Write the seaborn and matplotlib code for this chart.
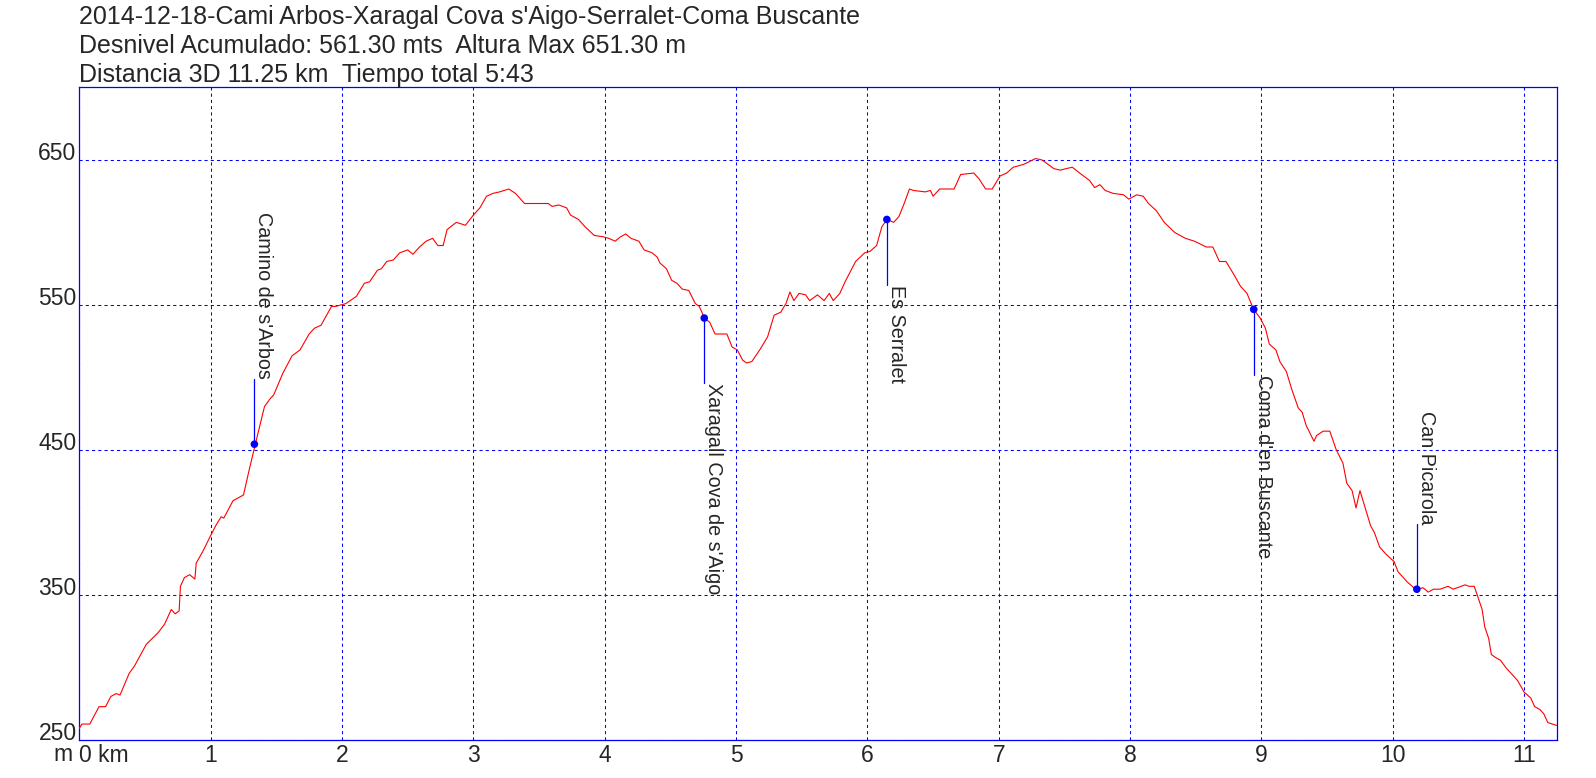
import seaborn as sns
import matplotlib.pyplot as plt

# elevation profile (km, m)
dist_km = [0.00, 0.02, 0.08, 0.15, 0.20, 0.24, 0.28, 0.31, 0.38, 0.42, 0.51, 0.60, 0.65, 0.70, 0.73,
           0.76, 0.77, 0.80, 0.84, 0.88, 0.89, 0.94, 1.00, 1.04, 1.08, 1.10, 1.17, 1.25, 1.29, 1.34,
           1.41, 1.45, 1.48, 1.55, 1.62, 1.68, 1.75, 1.79, 1.84, 1.92, 1.95, 2.03, 2.11, 2.17, 2.21,
           2.27, 2.30, 2.34, 2.39, 2.44, 2.50, 2.54, 2.59, 2.64, 2.69, 2.73, 2.77, 2.80, 2.87, 2.94,
           3.00, 3.05, 3.10, 3.15, 3.20, 3.27, 3.32, 3.39, 3.57, 3.60, 3.65, 3.71, 3.74, 3.80, 3.85,
           3.92, 3.99, 4.03, 4.08, 4.12, 4.16, 4.20, 4.26, 4.30, 4.36, 4.40, 4.42, 4.47, 4.51, 4.55,
           4.59, 4.64, 4.69, 4.72, 4.76, 4.80, 4.84, 4.93, 4.97, 5.01, 5.05, 5.08, 5.12, 5.18, 5.24,
           5.29, 5.34, 5.38, 5.41, 5.44, 5.48, 5.53, 5.56, 5.62, 5.67, 5.71, 5.74, 5.79, 5.83, 5.87,
           5.91, 5.98, 6.02, 6.07, 6.11, 6.15, 6.20, 6.24, 6.28, 6.32, 6.35, 6.44, 6.48, 6.50, 6.55,
           6.66, 6.71, 6.81, 6.85, 6.90, 6.95, 7.01, 7.06, 7.11, 7.19, 7.28, 7.33, 7.42, 7.47, 7.51,
           7.56, 7.63, 7.69, 7.73, 7.77, 7.81, 7.87, 7.95, 7.99, 8.05, 8.10, 8.14, 8.20, 8.26, 8.34,
           8.42, 8.49, 8.58, 8.63, 8.68, 8.73, 8.79, 8.84, 8.89, 8.94, 8.99, 9.03, 9.06, 9.11, 9.14,
           9.19, 9.23, 9.28, 9.31, 9.34, 9.40, 9.42, 9.47, 9.52, 9.57, 9.62, 9.65, 9.69, 9.72, 9.75,
           9.79, 9.83, 9.86, 9.90, 9.95, 10.01, 10.04, 10.11, 10.16, 10.19, 10.23, 10.27, 10.31, 10.36,
           10.42, 10.46, 10.55, 10.58, 10.62, 10.65, 10.68, 10.70, 10.73, 10.75, 10.78, 10.82, 10.86,
           10.90, 10.95, 11.00, 11.05, 11.08, 11.12, 11.15, 11.18, 11.25]
elev_m = [258, 261, 261, 273, 273, 280, 282, 281, 296, 301, 316, 324, 330, 340, 337,
          339, 356, 362, 364, 361, 372, 380, 391, 398, 404, 403, 415, 419, 435, 454,
          480, 485, 488, 503, 515, 519, 530, 534, 536, 549, 549, 551, 556, 565, 566,
          574, 575, 580, 581, 586, 588, 585, 590, 594, 596, 591, 591, 602, 607, 605,
          612, 617, 625, 627, 628, 630, 627, 620, 620, 618, 619, 617, 612, 609, 604,
          598, 597, 596, 594, 597, 599, 596, 594, 588, 586, 583, 579, 575, 567, 565,
          561, 560, 551, 549, 541, 538, 530, 530, 521, 519, 512, 510, 511, 519, 528,
          543, 545, 551, 559, 553, 558, 557, 553, 557, 553, 558, 553, 558, 566, 573,
          580, 586, 587, 591, 604, 609, 607, 611, 620, 630, 629, 628, 629, 625, 630,
          630, 640, 641, 637, 630, 630, 639, 641, 645, 647, 651, 650, 644, 643, 644,
          645, 640, 636, 631, 633, 629, 627, 626, 623, 626, 625, 620, 615, 607, 600,
          596, 594, 590, 590, 580, 580, 571, 563, 558, 547, 541, 534, 523, 519, 511,
          504, 492, 479, 476, 467, 456, 460, 463, 463, 450, 441, 427, 422, 410, 422,
          410, 398, 393, 383, 378, 373, 366, 359, 355, 354, 355, 352, 354, 354,
          356, 354, 357, 356, 356, 348, 340, 328, 320, 309, 307, 305, 300,
          296, 291, 283, 279, 273, 271, 268, 262, 260]

# waypoints
wp_names = ["Camino de s'Arbos", "Xaragall Cova de s'Aigo", "Es Serralet",
            "Coma d'en Buscante", "Can Picarola"]
wp_km = [1.333, 4.758, 6.148, 8.941, 10.183]
wp_elev = [454, 541, 609, 547, 354]
wp_up = [True, False, False, False, True]

title_lines = ["2014-12-18-Cami Arbos-Xaragal Cova s'Aigo-Serralet-Coma Buscante",
               "Desnivel Acumulado: 561.30 mts  Altura Max 651.30 m",
               "Distancia 3D 11.25 km  Tiempo total 5:43"]
x_ticks = list(range(12))
x_labels = ["0 km"] + [str(v) for v in x_ticks[1:]]
y_ticks = [250, 350, 450, 550, 650]

sns.set_style("white")
plt.rcParams["font.family"] = ["Liberation Sans", "DejaVu Sans"]

fig = plt.figure(figsize=(15.96, 7.78), dpi=100)
ax = fig.add_axes([79.3 / 1596, 1 - 740 / 778, (1557 - 79.3) / 1596, (740 - 87.5) / 778])

sns.lineplot(x=dist_km, y=elev_m, color="#ff0000", linewidth=0.8, sort=False, ax=ax, zorder=3)

ax.set_xlim(0, 11.25)
ax.set_ylim(250, 700)
ax.set_xticks(x_ticks)
ax.set_xticklabels(x_labels, fontsize=16.5)
ax.set_yticks(y_ticks)
ax.set_yticklabels([str(v) for v in y_ticks], fontsize=16.5)
ax.get_xticklabels()[0].set_ha("left")
for lab in ax.get_yticklabels():
    lab.set_va("baseline")
ax.tick_params(length=0, pad=2)
ax.tick_params(axis="x", pad=3)
ax.set_xlabel("")
ax.set_ylabel("")
ax.grid(True, color="#0000ff", linestyle=(0, (3, 3)), linewidth=0.75)
for sp in ax.spines.values():
    sp.set_color("#0000ff")
    sp.set_linewidth(0.9)
    sp.set_visible(True)

ax.annotate("m", xy=(0, 0), xycoords="axes fraction", xytext=(-7, -3),
            textcoords="offset pixels", ha="right", va="top", fontsize=16.5)

# waypoint leaders + labels
lead = 45
for name, k, e, up in zip(wp_names, wp_km, wp_elev, wp_up):
    end = e + lead if up else e - lead
    ax.plot([k, k], [e, end], color="#0000ff", linewidth=0.9, zorder=4)
    ax.text(k, end, name, rotation=270, ha="left", va="bottom" if up else "top",
            fontsize=14.2, zorder=5)
sns.scatterplot(x=wp_km, y=wp_elev, color="#0000ff", s=30, edgecolor="none", ax=ax, zorder=6)

for i, line in enumerate(title_lines):
    fig.text(79 / 1596, 1 - (24 + 29 * i) / 778, line, fontsize=18, ha="left", va="baseline")

fig.savefig("out.png", dpi=100)
plt.close(fig)
